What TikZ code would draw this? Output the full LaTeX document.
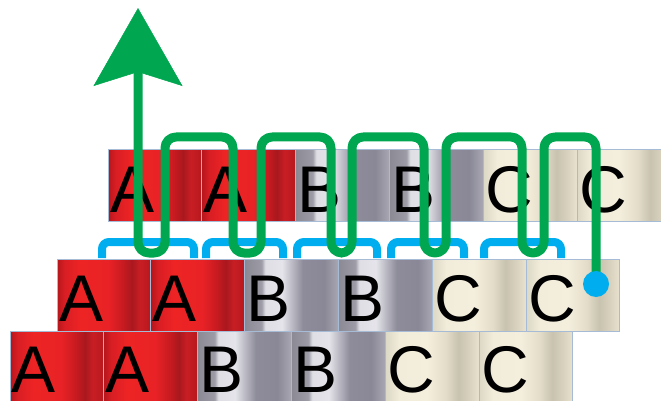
\documentclass[tikz,border=0pt]{standalone}
\usepackage{fontspec}
\setmainfont{Liberation Sans}
\usetikzlibrary{arrows.meta}
\definecolor{cellline}{HTML}{A6BCD6}
\definecolor{wiregreen}{HTML}{00A650}
\definecolor{linkblue}{HTML}{00AEEF}
% red
\definecolor{ra}{HTML}{B5161C}
\definecolor{rb}{HTML}{D81E24}
\definecolor{rc}{HTML}{EE2424}
\definecolor{rd}{HTML}{E82226}
\definecolor{re}{HTML}{C21A20}
\definecolor{rf}{HTML}{A8181E}
\definecolor{rg}{HTML}{C81E24}
\definecolor{rh}{HTML}{B8181E}
% grey
\definecolor{ga}{HTML}{8A8994}
\definecolor{gb}{HTML}{9C9BA6}
\definecolor{gc}{HTML}{DEDEE4}
\definecolor{gd}{HTML}{E4E4EA}
\definecolor{ge}{HTML}{BDBCC6}
\definecolor{gf}{HTML}{8E8C9A}
\definecolor{gg}{HTML}{8A8896}
\definecolor{gh}{HTML}{A8A7B2}
% cream
\definecolor{ca}{HTML}{DCD8C6}
\definecolor{cb}{HTML}{F2ECDA}
\definecolor{cc}{HTML}{F4EEDC}
\definecolor{cd}{HTML}{E2DCC8}
\definecolor{ce}{HTML}{C8C3AE}
\definecolor{cf}{HTML}{D8D2BE}
\definecolor{cg}{HTML}{E8E2CF}
\pgfdeclarehorizontalshading{redbox}{100bp}{color(0bp)=(ra); color(25bp)=(ra); color(29bp)=(rb); color(37.5bp)=(rc); color(52.5bp)=(rd); color(61bp)=(re); color(65bp)=(rf); color(69bp)=(rg); color(75bp)=(rh); color(100bp)=(rh)}
\pgfdeclarehorizontalshading{greybox}{100bp}{color(0bp)=(ga); color(25bp)=(ga); color(34bp)=(gb); color(36bp)=(gc); color(45bp)=(gd); color(50bp)=(ge); color(56bp)=(gf); color(67.5bp)=(gg); color(75bp)=(gh); color(100bp)=(gh)}
\pgfdeclarehorizontalshading{creambox}{100bp}{color(0bp)=(ca); color(25bp)=(ca); color(32.5bp)=(cb); color(47.5bp)=(cc); color(57.5bp)=(cd); color(64bp)=(ce); color(70bp)=(cf); color(75bp)=(cg); color(100bp)=(cg)}
\tikzset{
  cell/.style={draw=cellline, line width=0.7pt, minimum width=93.8pt, minimum height=72pt,
    inner sep=0pt, outer sep=0pt, anchor=north west, shade, shading=#1},
  letter/.style={anchor=base west, inner sep=0pt, outer sep=0pt, text=black,
    font=\fontsize{66}{66}\selectfont},
  bracket/.style={draw=linkblue, line width=8pt, rounded corners=7pt},
  wire/.style={draw=wiregreen, line width=9pt, rounded corners=11pt, line join=round,
    -{Stealth[length=78pt,width=89pt,inset=14pt,line width=0.5pt]}},
  dotstyle/.style={circle, fill=linkblue, minimum size=26pt, inner sep=0pt, outer sep=0pt}
}
\begin{document}
\begin{tikzpicture}[x=1pt,y=-1pt]
\useasboundingbox (0,0) rectangle (661,401);
\clip (0,0) rectangle (661,401);
% bottom row
\foreach \i/\s/\l in {0/redbox/A,1/redbox/A,2/greybox/B,3/greybox/B,4/creambox/C,5/creambox/C}{
  \node[cell=\s] (b\i) at ({10+93.8*\i},331) {};
  \node[letter] (bl\i) at ([shift={(2,61)}]b\i.north west) {\l};
}
% middle row
\foreach \i/\s/\l in {0/redbox/A,1/redbox/A,2/greybox/B,3/greybox/B,4/creambox/C,5/creambox/C}{
  \node[cell=\s] (m\i) at ({57+93.8*\i},259) {};
  \node[letter] (ml\i) at ([shift={(2,62)}]m\i.north west) {\l};
}
% top row
\foreach \i/\s/\l in {0/redbox/A,1/redbox/A,2/greybox/B,3/greybox/B,4/creambox/C,5/creambox/C}{
  \node[cell=\s] (t\i) at ({108+93.8*\i},149) {};
  \node[letter] (tl\i) at ([shift={(2,63)}]t\i.north west) {\l};
}
% blue brackets
\foreach \a/\b in {102/194, 206/283, 297/377, 391/464, 484/561}{
  \draw[bracket] (\a,258) -- (\a,242) -- (\b,242) -- (\b,258);
}
% green serpentine wire
\coordinate (start) at (596,284);
\coordinate (tip) at (138,8);
\draw[wire] (start) -- (596,137) -- (544,137) -- (544,253) -- (522,253) -- (522,137)
  -- (446,137) -- (446,253) -- (424,253) -- (424,137)
  -- (352,137) -- (352,253) -- (331,253) -- (331,137)
  -- (261,137) -- (261,253) -- (233,253) -- (233,137)
  -- (165,137) -- (165,253) -- (138,253) -- (tip);
\node[dotstyle] (dot) at (start) {};
\end{tikzpicture}
\end{document}
